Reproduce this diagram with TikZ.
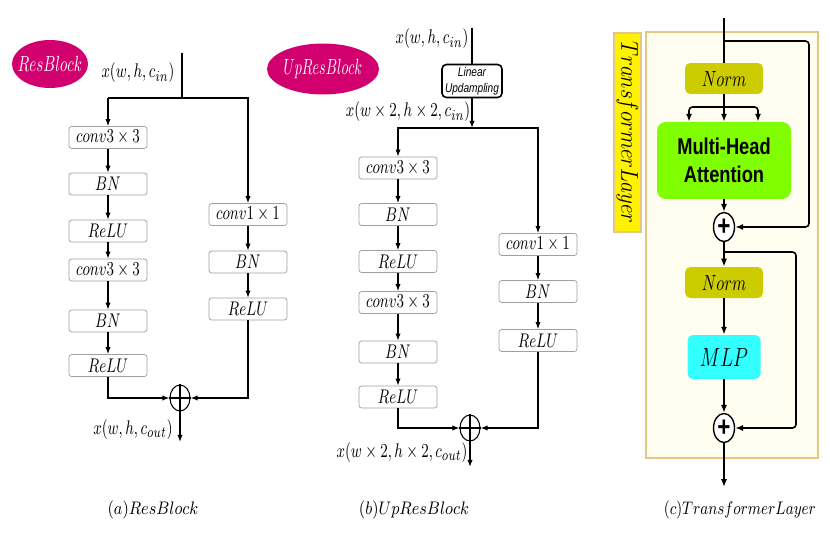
\documentclass[tikz,border=0pt]{standalone}
\usepackage{fontspec}
\usepackage{graphicx}
\usetikzlibrary{arrows.meta,shapes.geometric}
\newfontfamily\headfont[FakeStretch=0.8]{Liberation Sans}
\newcommand{\tallmath}[1]{\scalebox{0.92}[1.25]{#1}}
\definecolor{blockpink}{RGB}{210,0,110}
\definecolor{normolive}{RGB}{204,204,0}
\definecolor{mhagreen}{RGB}{128,255,0}
\definecolor{mlpcyan}{RGB}{51,255,255}
\definecolor{layerbg}{RGB}{255,254,240}
\definecolor{layertan}{RGB}{228,200,130}
\begin{document}
\begin{tikzpicture}
[x=0.02cm,y=-0.02cm,font=\fontsize{9.5}{11}\selectfont,
  titledecorate/.style={text=white,inner sep=0pt,font=\fontsize{10}{12}\selectfont},%
  boxdecorate/.style={shape=rectangle,rounded corners=1.5pt,draw=gray!75,fill=white,
    minimum width=1.56cm,minimum height=0.44cm,inner sep=1pt},%
  sumdecorate/.style={shape=ellipse,draw,line width=0.6pt,minimum width=0.4cm,
    minimum height=0.52cm,inner sep=0pt},%
  layerdecorate/.style={shape=rectangle,rounded corners=3pt,inner sep=1pt},%
  plusdecorate/.style={shape=ellipse,draw,fill=white,line width=0.8pt,minimum width=0.42cm,
    minimum height=0.58cm,inner sep=0pt,font=\fontsize{16}{16}\selectfont\headfont\bfseries},%
  linedecorate/.style={-{Latex[length=4pt,width=3pt]},line width=0.7pt},%
  thickdecorate/.style={-{Latex[length=4.5pt,width=3.5pt]},line width=0.9pt}]
\useasboundingbox (0,0) rectangle (830,554);

%% (a) ResBlock
\coordinate (atitle pos) at (50,64);
\fill[blockpink] (atitle pos) ellipse [x radius=0.76cm,y radius=0.48cm];
\node (atitle) at (atitle pos) [titledecorate] {\scalebox{0.85}[1.25]{$ResBlock$}};
\node (ain label) at (138,73) {\tallmath{$x(w,h,c_{in})$}};
\coordinate (ain) at (182,53);
\coordinate (asplit) at (182,98);
\coordinate (aleft) at (108,98);
\foreach \nodename/\y/\txt in {a1/137.5/{conv3\times3}, a2/184/{BN}, a3/231/{ReLU},
    a4/270/{conv3\times3}, a5/321/{BN}, a6/365.5/{ReLU}} {
  \node (\nodename) at (108,\y) [boxdecorate] {\tallmath{$\txt$}};
}
\foreach \nodename/\y/\txt in {ac1/214.5/{conv1\times1}, ac2/262/{BN}, ac3/309/{ReLU}} {
  \node (\nodename) at (248,\y) [boxdecorate] {\tallmath{$\txt$}};
}
\node (asum) at (180,398) [sumdecorate] {};
\draw[line width=0.6pt] (asum.north) -- (asum.south) (asum.west) -- (asum.east);
\coordinate (aout) at (180,442);
\node (aout label) at (133,430) {\tallmath{$x(w,h,c_{out})$}};
\draw[line width=0.7pt] (ain) -- (asplit) -- (aleft);
\draw[linedecorate] (aleft) -- (a1);
\draw[linedecorate] (asplit) -| (ac1.north);
\path
\foreach \startnode/\endnode in {a1/a2, a2/a3, a3/a4, a4/a5, a5/a6, ac1/ac2, ac2/ac3} {
  (\startnode) edge[linedecorate] (\endnode)
};
\draw[linedecorate] (a6) |- (asum.west);
\draw[linedecorate] (ac3) |- (asum.east);
\draw[linedecorate] (asum.south) -- (aout);

%% (b) UpResBlock
\coordinate (btitle pos) at (323,69);
\fill[blockpink] (btitle pos) ellipse [x radius=1.12cm,y radius=0.51cm];
\node (btitle) at (btitle pos) [titledecorate] {\scalebox{0.8}[1.25]{$UpResBlock$}};
\node (bin label) at (432,39) {\tallmath{$x(w,h,c_{in})$}};
\coordinate (bin) at (472,28);
\node (blinear) at (472,81) [shape=rectangle,rounded corners=2.5pt,draw,line width=0.9pt,
  minimum width=1.2cm,minimum height=0.66cm,inner sep=1pt,align=center,
  font=\fontsize{7.2}{9}\selectfont\headfont\itshape] {Linear\\Updampling};
\node (bup label) at (408,112) {\tallmath{$x(w\times2,h\times2,c_{in})$}};
\coordinate (bsplit) at (472,128);
\foreach \nodename/\y/\txt in {b1/168/{conv3\times3}, b2/214.5/{BN}, b3/261.5/{ReLU},
    b4/302.5/{conv3\times3}, b5/352/{BN}, b6/397/{ReLU}} {
  \node (\nodename) at (398,\y) [boxdecorate] {\tallmath{$\txt$}};
}
\foreach \nodename/\y/\txt in {bc1/244.5/{conv1\times1}, bc2/291.5/{BN}, bc3/340.5/{ReLU}} {
  \node (\nodename) at (538,\y) [boxdecorate] {\tallmath{$\txt$}};
}
\node (bsum) at (470,428) [sumdecorate] {};
\draw[line width=0.6pt] (bsum.north) -- (bsum.south) (bsum.west) -- (bsum.east);
\coordinate (bout) at (470,467);
\node (bout label) at (402,453) {\tallmath{$x(w\times2,h\times2,c_{out})$}};
\draw[line width=0.7pt] (bin) -- (blinear);
\draw[linedecorate] (blinear) -- (bsplit);
\draw[linedecorate] (bsplit) -| (b1.north);
\draw[linedecorate] (bsplit) -| (bc1.north);
\path
\foreach \startnode/\endnode in {b1/b2, b2/b3, b3/b4, b4/b5, b5/b6, bc1/bc2, bc2/bc3} {
  (\startnode) edge[linedecorate] (\endnode)
};
\draw[linedecorate] (b6) |- (bsum.west);
\draw[linedecorate] (bc3) |- (bsum.east);
\draw[linedecorate] (bsum.south) -- (bout);

%% (c) TransformerLayer
\fill[layerbg] (646,32) rectangle (818,458);
\draw[layertan,line width=0.8pt] (646,32) rectangle (818,458);
\node (ctitle) at (627.5,132.5) [shape=rectangle,draw=layertan,fill=yellow,line width=0.8pt,
  minimum width=0.54cm,minimum height=3.98cm,inner sep=0pt] {};
\node (ctitle text) at (ctitle.center) [rotate=-90,font=\fontsize{12}{14}\selectfont] {\scalebox{1}[1.15]{$TransformerLayer$}};
\coordinate (cin) at (724,18);
\coordinate (cfork1) at (724,41);
\coordinate (cturn1) at (809,41);
\node (cnorm1) at (724,78.5) [layerdecorate,fill=normolive,minimum width=1.56cm,minimum height=0.62cm,
  font=\fontsize{10}{12}\selectfont] {\tallmath{$Norm$}};
\coordinate (cbar) at (724,107);
\coordinate (cbarl) at (689,107);
\coordinate (cbarr) at (758,107);
\node (cmha) at (724,160.5) [layerdecorate,rounded corners=5pt,fill=mhagreen,minimum width=2.68cm,
  minimum height=1.54cm,align=center,font=\fontsize{13}{16}\selectfont\headfont\bfseries] {Multi-Head\\Attention};
\node (cplus1) at (724,227) [plusdecorate] {+};
\coordinate (cfork2) at (724,252);
\coordinate (cturn2) at (796,252);
\node (cnorm2) at (724,282.5) [layerdecorate,fill=normolive,minimum width=1.56cm,minimum height=0.62cm,
  font=\fontsize{10}{12}\selectfont] {\tallmath{$Norm$}};
\node (cmlp) at (724,357) [layerdecorate,fill=mlpcyan,minimum width=1.46cm,minimum height=0.88cm,
  font=\fontsize{12.5}{14}\selectfont] {\tallmath{$MLP$}};
\node (cplus2) at (724,428) [plusdecorate] {+};
\coordinate (cout) at (724,487);
\draw[line width=0.9pt] (cin) -- (cnorm1);
\draw[thickdecorate,rounded corners=2pt] (cfork1) -- (cturn1) |- (cplus1.east);
\draw[line width=0.9pt] (cnorm1) -- (cbar);
\draw[thickdecorate,rounded corners=2pt] (cbar) -| (cmha.north -| cbarl);
\draw[thickdecorate,rounded corners=2pt] (cbar) -| (cmha.north -| cbarr);
\path
\foreach \startnode/\endnode in {cbar/cmha, cmha/cplus1, cplus1/cnorm2, cnorm2/cmlp, cmlp/cplus2, cplus2/cout} {
  (\startnode) edge[thickdecorate] (\endnode)
};
\draw[thickdecorate,rounded corners=2pt] (cfork2) -- (cturn2) |- (cplus2.east);

%% captions
\node (acap) at (153,510) [font=\fontsize{9}{11}\selectfont] {\scalebox{1}[1.15]{$(a)ResBlock$}};
\node (bcap) at (414,510) [font=\fontsize{9}{11}\selectfont] {\scalebox{1}[1.15]{$(b)UpResBlock$}};
\node (ccap) at (740,510) [font=\fontsize{9}{11}\selectfont] {\scalebox{0.93}[1.15]{$(c)TransformerLayer$}};
\end{tikzpicture}
\end{document}
